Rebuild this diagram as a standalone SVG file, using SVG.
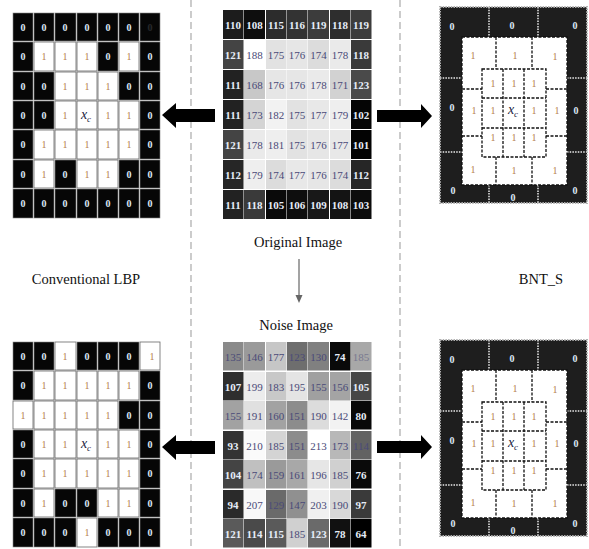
<svg xmlns="http://www.w3.org/2000/svg" width="589" height="549" viewBox="0 0 589 549">
<defs>
<style>
.bk{fill:#060606;stroke:#888;stroke-width:0.6}
.wh{fill:#fff;stroke:#666;stroke-width:0.8}
.z{font-family:"Liberation Serif",serif;font-size:10px;font-weight:bold;fill:#dce8f6;text-anchor:middle}
.o{font-family:"Liberation Serif",serif;font-size:10px;fill:#b5804e;text-anchor:middle}
.xc{font-family:"Liberation Serif",serif;font-size:14px;font-style:italic;fill:#1c2240;text-anchor:middle}
.nd{font-family:"Liberation Serif",serif;font-size:11px;font-weight:bold;fill:#e6edf8;text-anchor:middle}
.nl{font-family:"Liberation Serif",serif;font-size:11px;fill:#4a4a78;text-anchor:middle}
.lbl{font-family:"Liberation Serif",serif;font-size:14.5px;fill:#111;text-anchor:middle}
.div{stroke:#aaa;stroke-width:1.2;stroke-dasharray:7 4;fill:none}
.ring{fill:#1e1e1e;stroke:#b0b0b0;stroke-width:2;stroke-dasharray:1.5 1.2}
.rd{stroke:#b8b8b8;stroke-width:2;stroke-dasharray:1.5 1.2;fill:none}
.wr{fill:#fff;stroke:#111;stroke-width:1.3;stroke-dasharray:3 1.5}
.dl{stroke:#111;stroke-width:1.3;stroke-dasharray:3 1.5;fill:none}
</style>
<g id="bntTemplate">
<rect class="ring" x="440" y="7" width="147" height="196"/>
<line class="rd" x1="489" y1="7" x2="489" y2="37"/>
<line class="rd" x1="538" y1="7" x2="538" y2="37"/>
<line class="rd" x1="489" y1="185" x2="489" y2="203"/>
<line class="rd" x1="538" y1="185" x2="538" y2="203"/>
<line class="rd" x1="440" y1="78" x2="462" y2="78"/>
<line class="rd" x1="440" y1="152" x2="462" y2="152"/>
<line class="rd" x1="567" y1="78" x2="587" y2="78"/>
<line class="rd" x1="567" y1="152" x2="587" y2="152"/>
<rect class="wr" x="462" y="37" width="105" height="148"/>
<line class="dl" x1="496" y1="37" x2="496" y2="69"/>
<line class="dl" x1="532" y1="37" x2="532" y2="69"/>
<line class="dl" x1="496" y1="157" x2="496" y2="185"/>
<line class="dl" x1="532" y1="157" x2="532" y2="185"/>
<line class="dl" x1="462" y1="89" x2="482" y2="89"/>
<line class="dl" x1="462" y1="136" x2="482" y2="136"/>
<line class="dl" x1="546" y1="89" x2="567" y2="89"/>
<line class="dl" x1="546" y1="136" x2="567" y2="136"/>
<rect class="wr" x="482" y="69" width="64" height="88"/>
<line class="dl" x1="503" y1="69" x2="503" y2="157"/>
<line class="dl" x1="524" y1="69" x2="524" y2="157"/>
<line class="dl" x1="482" y1="98" x2="546" y2="98"/>
<line class="dl" x1="482" y1="128" x2="546" y2="128"/>
<text class="z" x="452" y="30">0</text><text class="z" x="512" y="29">0</text><text class="z" x="575" y="29">0</text>
<text class="z" x="452" y="111">0</text><text class="z" x="576" y="114">0</text>
<text class="z" x="453" y="194">0</text><text class="z" x="513" y="201">0</text><text class="z" x="575" y="194">0</text>
<text class="o" x="473" y="59">1</text><text class="o" x="515" y="59">1</text><text class="o" x="555" y="60">1</text>
<text class="o" x="474" y="114">1</text><text class="o" x="557" y="114">1</text>
<text class="o" x="473" y="173">1</text><text class="o" x="514" y="174">1</text><text class="o" x="555" y="174">1</text>
<text class="o" x="493" y="87">1</text><text class="o" x="514" y="87">1</text><text class="o" x="534" y="87">1</text>
<text class="o" x="493" y="114">1</text><text class="xc" x="513" y="114">x<tspan font-size="9" dy="3">c</tspan></text><text class="o" x="534" y="114">1</text>
<text class="o" x="493" y="141">1</text><text class="o" x="514" y="141">1</text><text class="o" x="534" y="141">1</text>
</g>
</defs>
<rect width="589" height="549" fill="#fff"/>

<g id="dividers">
<line class="div" x1="191" y1="0" x2="191" y2="549"/>
<line class="div" x1="400" y1="0" x2="400" y2="549"/>
</g>

<g id="lbp-original">
<rect class="bk" x="13" y="13" width="20" height="28"/><rect class="bk" x="34" y="13" width="20" height="28"/><rect class="bk" x="55" y="13" width="21" height="28"/><rect class="bk" x="77" y="13" width="20" height="28"/><rect class="bk" x="98" y="13" width="20" height="28"/><rect class="bk" x="119" y="13" width="20" height="28"/><rect class="bk" x="140" y="13" width="20" height="28"/>
<rect class="bk" x="13" y="42" width="20" height="29"/><rect class="wh" x="34" y="42" width="20" height="29"/><rect class="wh" x="55" y="42" width="21" height="29"/><rect class="wh" x="77" y="42" width="20" height="29"/><rect class="bk" x="98" y="42" width="20" height="29"/><rect class="wh" x="119" y="42" width="20" height="29"/><rect class="bk" x="140" y="42" width="20" height="29"/>
<rect class="bk" x="13" y="72" width="20" height="28"/><rect class="bk" x="34" y="72" width="20" height="28"/><rect class="wh" x="55" y="72" width="21" height="28"/><rect class="wh" x="77" y="72" width="20" height="28"/><rect class="wh" x="98" y="72" width="20" height="28"/><rect class="bk" x="119" y="72" width="20" height="28"/><rect class="bk" x="140" y="72" width="20" height="28"/>
<rect class="bk" x="13" y="101" width="20" height="28"/><rect class="bk" x="34" y="101" width="20" height="28"/><rect class="wh" x="55" y="101" width="21" height="28"/><rect class="wh" x="77" y="101" width="20" height="28"/><rect class="wh" x="98" y="101" width="20" height="28"/><rect class="wh" x="119" y="101" width="20" height="28"/><rect class="bk" x="140" y="101" width="20" height="28"/>
<rect class="bk" x="13" y="130" width="20" height="29"/><rect class="wh" x="34" y="130" width="20" height="29"/><rect class="wh" x="55" y="130" width="21" height="29"/><rect class="wh" x="77" y="130" width="20" height="29"/><rect class="wh" x="98" y="130" width="20" height="29"/><rect class="wh" x="119" y="130" width="20" height="29"/><rect class="bk" x="140" y="130" width="20" height="29"/>
<rect class="bk" x="13" y="160" width="20" height="28"/><rect class="wh" x="34" y="160" width="20" height="28"/><rect class="bk" x="55" y="160" width="21" height="28"/><rect class="wh" x="77" y="160" width="20" height="28"/><rect class="wh" x="98" y="160" width="20" height="28"/><rect class="bk" x="119" y="160" width="20" height="28"/><rect class="bk" x="140" y="160" width="20" height="28"/>
<rect class="bk" x="13" y="189" width="20" height="29"/><rect class="bk" x="34" y="189" width="20" height="29"/><rect class="bk" x="55" y="189" width="21" height="29"/><rect class="bk" x="77" y="189" width="20" height="29"/><rect class="bk" x="98" y="189" width="20" height="29"/><rect class="bk" x="119" y="189" width="20" height="29"/><rect class="bk" x="140" y="189" width="20" height="29"/>
<text class="z" x="23" y="31">0</text><text class="z" x="44" y="31">0</text><text class="z" x="65" y="31">0</text><text class="z" x="87" y="31">0</text><text class="z" x="108" y="31">0</text><text class="z" x="129" y="31">0</text><text class="z" x="150" y="31" opacity="0.15">0</text>
<text class="z" x="23" y="60">0</text><text class="o" x="44" y="60">1</text><text class="o" x="65" y="60">1</text><text class="o" x="87" y="60">1</text><text class="z" x="108" y="60">0</text><text class="o" x="129" y="60">1</text><text class="z" x="150" y="60">0</text>
<text class="z" x="23" y="90">0</text><text class="z" x="44" y="90">0</text><text class="o" x="65" y="90">1</text><text class="o" x="87" y="90">1</text><text class="o" x="108" y="90">1</text><text class="z" x="129" y="90">0</text><text class="z" x="150" y="90">0</text>
<text class="z" x="23" y="119">0</text><text class="z" x="44" y="119">0</text><text class="o" x="65" y="119">1</text><text class="xc" x="86" y="119">x<tspan font-size="9" dy="3">c</tspan></text><text class="o" x="108" y="119">1</text><text class="o" x="129" y="119">1</text><text class="z" x="150" y="119">0</text>
<text class="z" x="23" y="148">0</text><text class="o" x="44" y="148">1</text><text class="o" x="65" y="148">1</text><text class="o" x="87" y="148">1</text><text class="o" x="108" y="148">1</text><text class="o" x="129" y="148">1</text><text class="z" x="150" y="148">0</text>
<text class="z" x="23" y="178">0</text><text class="o" x="44" y="178">1</text><text class="z" x="65" y="178">0</text><text class="o" x="87" y="178">1</text><text class="o" x="108" y="178">1</text><text class="z" x="129" y="178">0</text><text class="z" x="150" y="178">0</text>
<text class="z" x="23" y="207">0</text><text class="z" x="44" y="207">0</text><text class="z" x="65" y="207">0</text><text class="z" x="87" y="207">0</text><text class="z" x="108" y="207">0</text><text class="z" x="129" y="207">0</text><text class="z" x="150" y="207">0</text>
</g>

<g id="original-image">
<rect x="223" y="10" width="20.5" height="29" fill="#1c1c1c"/><rect x="244" y="10" width="21" height="29" fill="#0e0e0e"/><rect x="266" y="10" width="20.5" height="29" fill="#2c2c2c"/><rect x="287" y="10" width="20.5" height="29" fill="#333"/><rect x="308" y="10" width="21" height="29" fill="#3c3c3c"/><rect x="330" y="10" width="20.5" height="29" fill="#2e2e2e"/><rect x="351" y="10" width="20.5" height="29" fill="#3c3c3c"/>
<rect x="223" y="40" width="20.5" height="29" fill="#444"/><rect x="244" y="40" width="21" height="29" fill="#fff"/><rect x="266" y="40" width="20.5" height="29" fill="#e2e2e2"/><rect x="287" y="40" width="20.5" height="29" fill="#e6e6e6"/><rect x="308" y="40" width="21" height="29" fill="#dcdcdc"/><rect x="330" y="40" width="20.5" height="29" fill="#eaeaea"/><rect x="351" y="40" width="20.5" height="29" fill="#3a3a3a"/>
<rect x="223" y="70" width="20.5" height="29" fill="#222"/><rect x="244" y="70" width="21" height="29" fill="#c8c8c8"/><rect x="266" y="70" width="20.5" height="29" fill="#e6e6e6"/><rect x="287" y="70" width="20.5" height="29" fill="#e6e6e6"/><rect x="308" y="70" width="21" height="29" fill="#eaeaea"/><rect x="330" y="70" width="20.5" height="29" fill="#d2d2d2"/><rect x="351" y="70" width="20.5" height="29" fill="#4a4a4a"/>
<rect x="223" y="100" width="20.5" height="29" fill="#222"/><rect x="244" y="100" width="21" height="29" fill="#d4d4d4"/><rect x="266" y="100" width="20.5" height="29" fill="#f2f2f2"/><rect x="287" y="100" width="20.5" height="29" fill="#e2e2e2"/><rect x="308" y="100" width="21" height="29" fill="#e8e8e8"/><rect x="330" y="100" width="20.5" height="29" fill="#eeeeee"/><rect x="351" y="100" width="20.5" height="29" fill="#050505"/>
<rect x="223" y="130" width="20.5" height="29" fill="#444"/><rect x="244" y="130" width="21" height="29" fill="#eaeaea"/><rect x="266" y="130" width="20.5" height="29" fill="#eeeeee"/><rect x="287" y="130" width="20.5" height="29" fill="#e2e2e2"/><rect x="308" y="130" width="21" height="29" fill="#e6e6e6"/><rect x="330" y="130" width="20.5" height="29" fill="#e8e8e8"/><rect x="351" y="130" width="20.5" height="29" fill="#030303"/>
<rect x="223" y="160" width="20.5" height="29" fill="#262626"/><rect x="244" y="160" width="21" height="29" fill="#eeeeee"/><rect x="266" y="160" width="20.5" height="29" fill="#dcdcdc"/><rect x="287" y="160" width="20.5" height="29" fill="#e8e8e8"/><rect x="308" y="160" width="21" height="29" fill="#e6e6e6"/><rect x="330" y="160" width="20.5" height="29" fill="#dcdcdc"/><rect x="351" y="160" width="20.5" height="29" fill="#262626"/>
<rect x="223" y="190" width="20.5" height="29" fill="#222"/><rect x="244" y="190" width="21" height="29" fill="#3a3a3a"/><rect x="266" y="190" width="20.5" height="29" fill="#0a0a0a"/><rect x="287" y="190" width="20.5" height="29" fill="#0e0e0e"/><rect x="308" y="190" width="21" height="29" fill="#181818"/><rect x="330" y="190" width="20.5" height="29" fill="#141414"/><rect x="351" y="190" width="20.5" height="29" fill="#0c0c0c"/>
<text class="nd" x="233" y="28.5">110</text><text class="nd" x="254.5" y="28.5">108</text><text class="nd" x="276" y="28.5">115</text><text class="nd" x="297" y="28.5">116</text><text class="nd" x="318.5" y="28.5">119</text><text class="nd" x="340" y="28.5">118</text><text class="nd" x="361" y="28.5">119</text>
<text class="nd" x="233" y="58.5">121</text><text class="nl" x="254.5" y="58.5">188</text><text class="nl" x="276" y="58.5">175</text><text class="nl" x="297" y="58.5">176</text><text class="nl" x="318.5" y="58.5">174</text><text class="nl" x="340" y="58.5">178</text><text class="nd" x="361" y="58.5">118</text>
<text class="nd" x="233" y="88.5">111</text><text class="nl" x="254.5" y="88.5">168</text><text class="nl" x="276" y="88.5">176</text><text class="nl" x="297" y="88.5">176</text><text class="nl" x="318.5" y="88.5">178</text><text class="nl" x="340" y="88.5">171</text><text class="nd" x="361" y="88.5">123</text>
<text class="nd" x="233" y="118.5">111</text><text class="nl" x="254.5" y="118.5">173</text><text class="nl" x="276" y="118.5">182</text><text class="nl" x="297" y="118.5">175</text><text class="nl" x="318.5" y="118.5">177</text><text class="nl" x="340" y="118.5">179</text><text class="nd" x="361" y="118.5">102</text>
<text class="nd" x="233" y="148.5">121</text><text class="nl" x="254.5" y="148.5">178</text><text class="nl" x="276" y="148.5">181</text><text class="nl" x="297" y="148.5">175</text><text class="nl" x="318.5" y="148.5">176</text><text class="nl" x="340" y="148.5">177</text><text class="nd" x="361" y="148.5">101</text>
<text class="nd" x="233" y="178.5">112</text><text class="nl" x="254.5" y="178.5">179</text><text class="nl" x="276" y="178.5">174</text><text class="nl" x="297" y="178.5">177</text><text class="nl" x="318.5" y="178.5">176</text><text class="nl" x="340" y="178.5">174</text><text class="nd" x="361" y="178.5">112</text>
<text class="nd" x="233" y="208.5">111</text><text class="nd" x="254.5" y="208.5">118</text><text class="nd" x="276" y="208.5">105</text><text class="nd" x="297" y="208.5">106</text><text class="nd" x="318.5" y="208.5">109</text><text class="nd" x="340" y="208.5">108</text><text class="nd" x="361" y="208.5">103</text>
</g>

<g id="bnt-original">
<use href="#bntTemplate"/>
</g>

<g id="lbp-noise">
<rect class="bk" x="13" y="342" width="20" height="28"/><rect class="bk" x="34" y="342" width="20" height="28"/><rect class="wh" x="55" y="342" width="21" height="28" stroke="none"/><rect class="bk" x="77" y="342" width="20" height="28"/><rect class="bk" x="98" y="342" width="20" height="28"/><rect class="bk" x="119" y="342" width="20" height="28"/><rect class="wh" x="140" y="342" width="20" height="28" stroke="none"/>
<rect class="bk" x="13" y="371" width="20" height="29"/><rect class="wh" x="34" y="371" width="20" height="29"/><rect class="wh" x="55" y="371" width="21" height="29"/><rect class="wh" x="77" y="371" width="20" height="29"/><rect class="wh" x="98" y="371" width="20" height="29"/><rect class="wh" x="119" y="371" width="20" height="29"/><rect class="bk" x="140" y="371" width="20" height="29"/>
<rect class="wh" x="13" y="401" width="20" height="28" stroke="none"/><rect class="wh" x="34" y="401" width="20" height="28"/><rect class="wh" x="55" y="401" width="21" height="28"/><rect class="wh" x="77" y="401" width="20" height="28"/><rect class="wh" x="98" y="401" width="20" height="28"/><rect class="bk" x="119" y="401" width="20" height="28"/><rect class="bk" x="140" y="401" width="20" height="28"/>
<rect class="bk" x="13" y="430" width="20" height="28"/><rect class="wh" x="34" y="430" width="20" height="28"/><rect class="wh" x="55" y="430" width="21" height="28"/><rect class="wh" x="77" y="430" width="20" height="28"/><rect class="wh" x="98" y="430" width="20" height="28"/><rect class="wh" x="119" y="430" width="20" height="28"/><rect class="bk" x="140" y="430" width="20" height="28"/>
<rect class="bk" x="13" y="459" width="20" height="29"/><rect class="wh" x="34" y="459" width="20" height="29"/><rect class="wh" x="55" y="459" width="21" height="29"/><rect class="wh" x="77" y="459" width="20" height="29"/><rect class="wh" x="98" y="459" width="20" height="29"/><rect class="wh" x="119" y="459" width="20" height="29"/><rect class="bk" x="140" y="459" width="20" height="29"/>
<rect class="bk" x="13" y="489" width="20" height="28"/><rect class="wh" x="34" y="489" width="20" height="28"/><rect class="bk" x="55" y="489" width="21" height="28"/><rect class="bk" x="77" y="489" width="20" height="28"/><rect class="wh" x="98" y="489" width="20" height="28"/><rect class="wh" x="119" y="489" width="20" height="28"/><rect class="bk" x="140" y="489" width="20" height="28"/>
<rect class="bk" x="13" y="518" width="20" height="29"/><rect class="bk" x="34" y="518" width="20" height="29"/><rect class="bk" x="55" y="518" width="21" height="29"/><rect class="wh" x="77" y="518" width="20" height="29" stroke="none"/><rect class="bk" x="98" y="518" width="20" height="29"/><rect class="bk" x="119" y="518" width="20" height="29"/><rect class="bk" x="140" y="518" width="20" height="29"/>
<text class="z" x="23" y="360">0</text><text class="z" x="44" y="360">0</text><text class="o" x="65" y="360">1</text><text class="z" x="87" y="360">0</text><text class="z" x="108" y="360">0</text><text class="z" x="129" y="360">0</text><text class="o" x="152" y="360">1</text>
<text class="z" x="23" y="389">0</text><text class="o" x="44" y="389">1</text><text class="o" x="65" y="389">1</text><text class="o" x="87" y="389">1</text><text class="o" x="108" y="389">1</text><text class="o" x="129" y="389">1</text><text class="z" x="150" y="389">0</text>
<text class="o" x="23" y="419">1</text><text class="o" x="44" y="419">1</text><text class="o" x="65" y="419">1</text><text class="o" x="87" y="419">1</text><text class="o" x="108" y="419">1</text><text class="z" x="129" y="419">0</text><text class="z" x="150" y="419">0</text>
<text class="z" x="23" y="448">0</text><text class="o" x="44" y="448">1</text><text class="o" x="65" y="448">1</text><text class="xc" x="86" y="448">x<tspan font-size="9" dy="3">c</tspan></text><text class="o" x="108" y="448">1</text><text class="o" x="129" y="448">1</text><text class="z" x="150" y="448">0</text>
<text class="z" x="23" y="477">0</text><text class="o" x="44" y="477">1</text><text class="o" x="65" y="477">1</text><text class="o" x="87" y="477">1</text><text class="o" x="108" y="477">1</text><text class="o" x="129" y="477">1</text><text class="z" x="150" y="477">0</text>
<text class="z" x="23" y="507">0</text><text class="o" x="44" y="507">1</text><text class="z" x="65" y="507">0</text><text class="z" x="87" y="507">0</text><text class="o" x="108" y="507">1</text><text class="o" x="129" y="507">1</text><text class="z" x="150" y="507">0</text>
<text class="z" x="23" y="536">0</text><text class="z" x="44" y="536">0</text><text class="z" x="65" y="536">0</text><text class="o" x="87" y="536">1</text><text class="z" x="108" y="536">0</text><text class="z" x="129" y="536">0</text><text class="z" x="150" y="536">0</text>
</g>

<g id="noise-image">
<rect x="223" y="342" width="20.5" height="28.5" fill="#8a8a8a"/><rect x="244" y="342" width="21" height="28.5" fill="#9a9a9a"/><rect x="266" y="342" width="20.5" height="28.5" fill="#c6c6c6"/><rect x="287" y="342" width="20.5" height="28.5" fill="#6e6e6e"/><rect x="308" y="342" width="21" height="28.5" fill="#808080"/><rect x="330" y="342" width="20.5" height="28.5" fill="#0a0a0a"/><rect x="351" y="342" width="20.5" height="28.5" fill="#a8a8a8"/>
<rect x="223" y="372" width="20.5" height="28.5" fill="#2e2e2e"/><rect x="244" y="372" width="21" height="28.5" fill="#ececec"/><rect x="266" y="372" width="20.5" height="28.5" fill="#c8c8c8"/><rect x="287" y="372" width="20.5" height="28.5" fill="#e4e4e4"/><rect x="308" y="372" width="21" height="28.5" fill="#a0a0a0"/><rect x="330" y="372" width="20.5" height="28.5" fill="#a4a4a4"/><rect x="351" y="372" width="20.5" height="28.5" fill="#464646"/>
<rect x="223" y="401" width="20.5" height="28.5" fill="#a2a2a2"/><rect x="244" y="401" width="21" height="28.5" fill="#e0e0e0"/><rect x="266" y="401" width="20.5" height="28.5" fill="#a2a2a2"/><rect x="287" y="401" width="20.5" height="28.5" fill="#8c8c8c"/><rect x="308" y="401" width="21" height="28.5" fill="#dcdcdc"/><rect x="330" y="401" width="20.5" height="28.5" fill="#f2f2f2"/><rect x="351" y="401" width="20.5" height="28.5" fill="#080808"/>
<rect x="223" y="431" width="20.5" height="28.5" fill="#333"/><rect x="244" y="431" width="21" height="28.5" fill="#fafafa"/><rect x="266" y="431" width="20.5" height="28.5" fill="#d4d4d4"/><rect x="287" y="431" width="20.5" height="28.5" fill="#8c8c8c"/><rect x="308" y="431" width="21" height="28.5" fill="#fff"/><rect x="330" y="431" width="20.5" height="28.5" fill="#b8b8b8"/><rect x="351" y="431" width="20.5" height="28.5" fill="#626262"/>
<rect x="223" y="460" width="20.5" height="28.5" fill="#444"/><rect x="244" y="460" width="21" height="28.5" fill="#c0c0c0"/><rect x="266" y="460" width="20.5" height="28.5" fill="#9a9a9a"/><rect x="287" y="460" width="20.5" height="28.5" fill="#a8a8a8"/><rect x="308" y="460" width="21" height="28.5" fill="#e6e6e6"/><rect x="330" y="460" width="20.5" height="28.5" fill="#d0d0d0"/><rect x="351" y="460" width="20.5" height="28.5" fill="#0a0a0a"/>
<rect x="223" y="490" width="20.5" height="28.5" fill="#2a2a2a"/><rect x="244" y="490" width="21" height="28.5" fill="#f8f8f8"/><rect x="266" y="490" width="20.5" height="28.5" fill="#6a6a6a"/><rect x="287" y="490" width="20.5" height="28.5" fill="#909090"/><rect x="308" y="490" width="21" height="28.5" fill="#f0f0f0"/><rect x="330" y="490" width="20.5" height="28.5" fill="#d8d8d8"/><rect x="351" y="490" width="20.5" height="28.5" fill="#3a3a3a"/>
<rect x="223" y="519" width="20.5" height="28.5" fill="#5a5a5a"/><rect x="244" y="519" width="21" height="28.5" fill="#4a4a4a"/><rect x="266" y="519" width="20.5" height="28.5" fill="#5a5a5a"/><rect x="287" y="519" width="20.5" height="28.5" fill="#d0d0d0"/><rect x="308" y="519" width="21" height="28.5" fill="#6a6a6a"/><rect x="330" y="519" width="20.5" height="28.5" fill="#111"/><rect x="351" y="519" width="20.5" height="28.5" fill="#000"/>
<text class="nl" x="233" y="360.5">135</text><text class="nl" x="254.5" y="360.5">146</text><text class="nl" x="276" y="360.5">177</text><text class="nl" x="297" y="360.5">123</text><text class="nl" x="318.5" y="360.5">130</text><text class="nd" x="340" y="360.5">74</text><text class="nl" x="361" y="360.5" opacity="0.5">185</text>
<text class="nd" x="233" y="390.5">107</text><text class="nl" x="254.5" y="390.5">199</text><text class="nl" x="276" y="390.5">183</text><text class="nl" x="297" y="390.5">195</text><text class="nl" x="318.5" y="390.5">155</text><text class="nl" x="340" y="390.5">156</text><text class="nd" x="361" y="390.5">105</text>
<text class="nl" x="233" y="419.5">155</text><text class="nl" x="254.5" y="419.5">191</text><text class="nl" x="276" y="419.5">160</text><text class="nl" x="297" y="419.5">151</text><text class="nl" x="318.5" y="419.5">190</text><text class="nl" x="340" y="419.5">142</text><text class="nd" x="361" y="419.5">80</text>
<text class="nd" x="233" y="449.5">93</text><text class="nl" x="254.5" y="449.5">210</text><text class="nl" x="276" y="449.5">185</text><text class="nl" x="297" y="449.5">151</text><text class="nl" x="318.5" y="449.5">213</text><text class="nl" x="340" y="449.5">173</text><text class="nl" x="361" y="449.5">114</text>
<text class="nd" x="233" y="478.5">104</text><text class="nl" x="254.5" y="478.5">174</text><text class="nl" x="276" y="478.5">159</text><text class="nl" x="297" y="478.5">161</text><text class="nl" x="318.5" y="478.5">196</text><text class="nl" x="340" y="478.5">185</text><text class="nd" x="361" y="478.5">76</text>
<text class="nd" x="233" y="508.5">94</text><text class="nl" x="254.5" y="508.5">207</text><text class="nl" x="276" y="508.5">129</text><text class="nl" x="297" y="508.5">147</text><text class="nl" x="318.5" y="508.5">203</text><text class="nl" x="340" y="508.5">190</text><text class="nd" x="361" y="508.5">97</text>
<text class="nd" x="233" y="537.5">121</text><text class="nd" x="254.5" y="537.5">114</text><text class="nd" x="276" y="537.5">115</text><text class="nl" x="297" y="537.5">185</text><text class="nd" x="318.5" y="537.5">123</text><text class="nd" x="340" y="537.5">78</text><text class="nd" x="361" y="537.5">64</text>
</g>

<g id="bnt-noise">
<use href="#bntTemplate" transform="translate(0,333)"/>
</g>

<g id="labels">
<text class="lbl" x="298" y="247">Original Image</text>
<text class="lbl" x="296" y="330">Noise Image</text>
<text class="lbl" x="86" y="284">Conventional LBP</text>
<text class="lbl" x="541" y="284">BNT_S</text>
</g>

<g id="connectors">
<polygon points="162,115 176,103 176,109 215,109 215,122 176,122 176,128" fill="#000"/>
<polygon points="377,110 421,110 421,104 432,116 421,128 421,122 377,122" fill="#000"/>
<polygon points="162,447 176,435 176,441 215,441 215,454 176,454 176,460" fill="#000"/>
<polygon points="377,441 421,441 421,435 432,447 421,459 421,453 377,453" fill="#000"/>
<line x1="299" y1="259" x2="299" y2="297" stroke="#666" stroke-width="1.2"/>
<polygon points="295.5,295 302.5,295 299,303" fill="#666"/>
</g>
</svg>
